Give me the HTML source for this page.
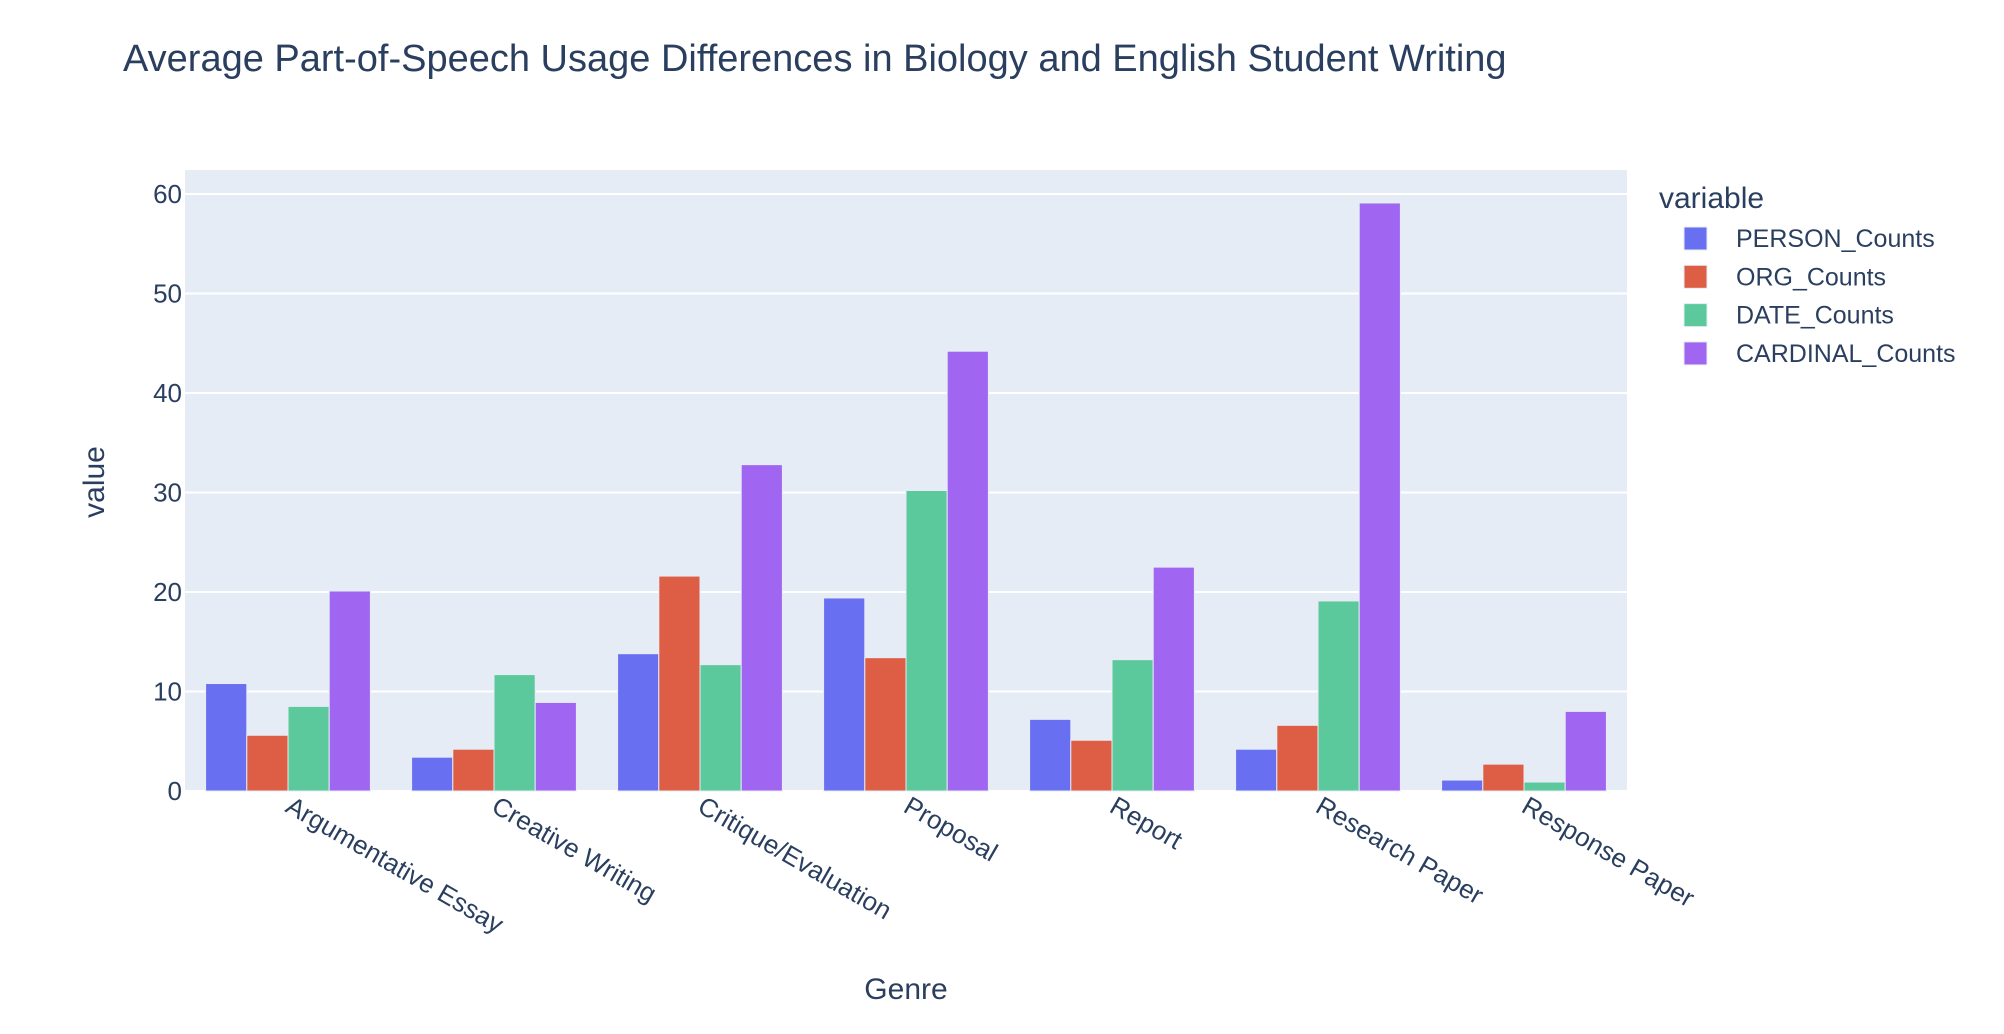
<!DOCTYPE html>
<html><head><meta charset="utf-8"><style>
body{margin:0;background:#fff;}
svg{display:block;font-family:"Liberation Sans",Arial,sans-serif;}
</style></head><body>
<svg id="chart" width="2004" height="1034" viewBox="0 0 2004 1034">
<rect x="0" y="0" width="2004" height="1034" fill="#fff"/>
<text x="123" y="71" font-size="38" fill="#2a3f5f">Average Part-of-Speech Usage Differences in Biology and English Student Writing</text>
<rect x="185" y="170" width="1442" height="621" fill="#e5ecf6"/>
<g id="grid"></g><g id="bars"></g><g id="ticks"></g>
<text x="906" y="999" font-size="30" fill="#2a3f5f" text-anchor="middle">Genre</text>
<text transform="translate(104,482) rotate(-90)" font-size="30" fill="#2a3f5f" text-anchor="middle">value</text>
<g id="legend"><text x="1659" y="208" font-size="30" fill="#2a3f5f">variable</text></g>
</svg>
<script>
const categories=["Argumentative Essay","Creative Writing","Critique/Evaluation","Proposal","Report","Research Paper","Response Paper"];
const seriesNames=["PERSON_Counts","ORG_Counts","DATE_Counts","CARDINAL_Counts"];
const personValues=[10.8,3.4,13.8,19.4,7.2,4.2,1.1];
const orgValues=[5.6,4.2,21.6,13.4,5.1,6.6,2.7];
const dateValues=[8.5,11.7,12.7,30.2,13.2,19.1,0.9];
const cardinalValues=[20.1,8.9,32.8,44.2,22.5,59.1,8.0];
const yTicks=[0,10,20,30,40,50,60];
const colors=["#686ff1","#de5e45","#5bc99b","#a066f1"];
const series=[personValues,orgValues,dateValues,cardinalValues];
const NS="http://www.w3.org/2000/svg";
const X0=185,X1=1627,Y0=791,Y60=194;
const yScale=v=>Y0-(v/60)*(Y0-Y60);
const band=(X1-X0)/categories.length;
const xCenter=i=>X0+band*(i+0.5);
const barW=band*0.8/series.length;
function mk(t,a,p){const e=document.createElementNS(NS,t);for(const k in a)e.setAttribute(k,a[k]);p.appendChild(e);return e;}
const grid=document.getElementById('grid'),ticks=document.getElementById('ticks'),bars=document.getElementById('bars'),legend=document.getElementById('legend');
yTicks.forEach(t=>{
  if(t>0){const l=mk('line',{x1:X0,x2:X1,y1:yScale(t),y2:yScale(t),stroke:'#fff','stroke-width':2},grid);
  
  }
  const tx=mk('text',{x:X0-3,y:yScale(t)+9,'font-size':26,fill:'#2a3f5f','text-anchor':'end'},ticks);
  tx.textContent=t;
  
  
});
const z=mk('line',{x1:X0,x2:X1,y1:Y0,y2:Y0,stroke:'#fff','stroke-width':2},grid);


categories.forEach((c,i)=>{
  series.forEach((s,j)=>{
    const x=xCenter(i)-band*0.4+j*barW;
    const r=mk('rect',{x:x,y:yScale(s[i]),width:barW,height:Y0-yScale(s[i]),fill:colors[j],stroke:'#e5ecf6','stroke-width':1},bars);
    
    
  });
  const cx=xCenter(i);
  const tx=mk('text',{transform:`translate(${cx-4},${Y0+20}) rotate(30)`,'font-size':26,fill:'#2a3f5f'},ticks);
  tx.textContent=c;
  
  
});
seriesNames.forEach((n,j)=>{
  const y=238+j*38.3;
  const g=mk('g',{},legend);
  
  
  mk('rect',{x:1684,y:y-11,width:23,height:23,fill:colors[j],stroke:'#e5ecf6','stroke-width':1},g);
  const t=mk('text',{x:1736,y:y+9,'font-size':25,fill:'#2a3f5f'},g);
  t.textContent=n;
});
</script>
</body></html>
